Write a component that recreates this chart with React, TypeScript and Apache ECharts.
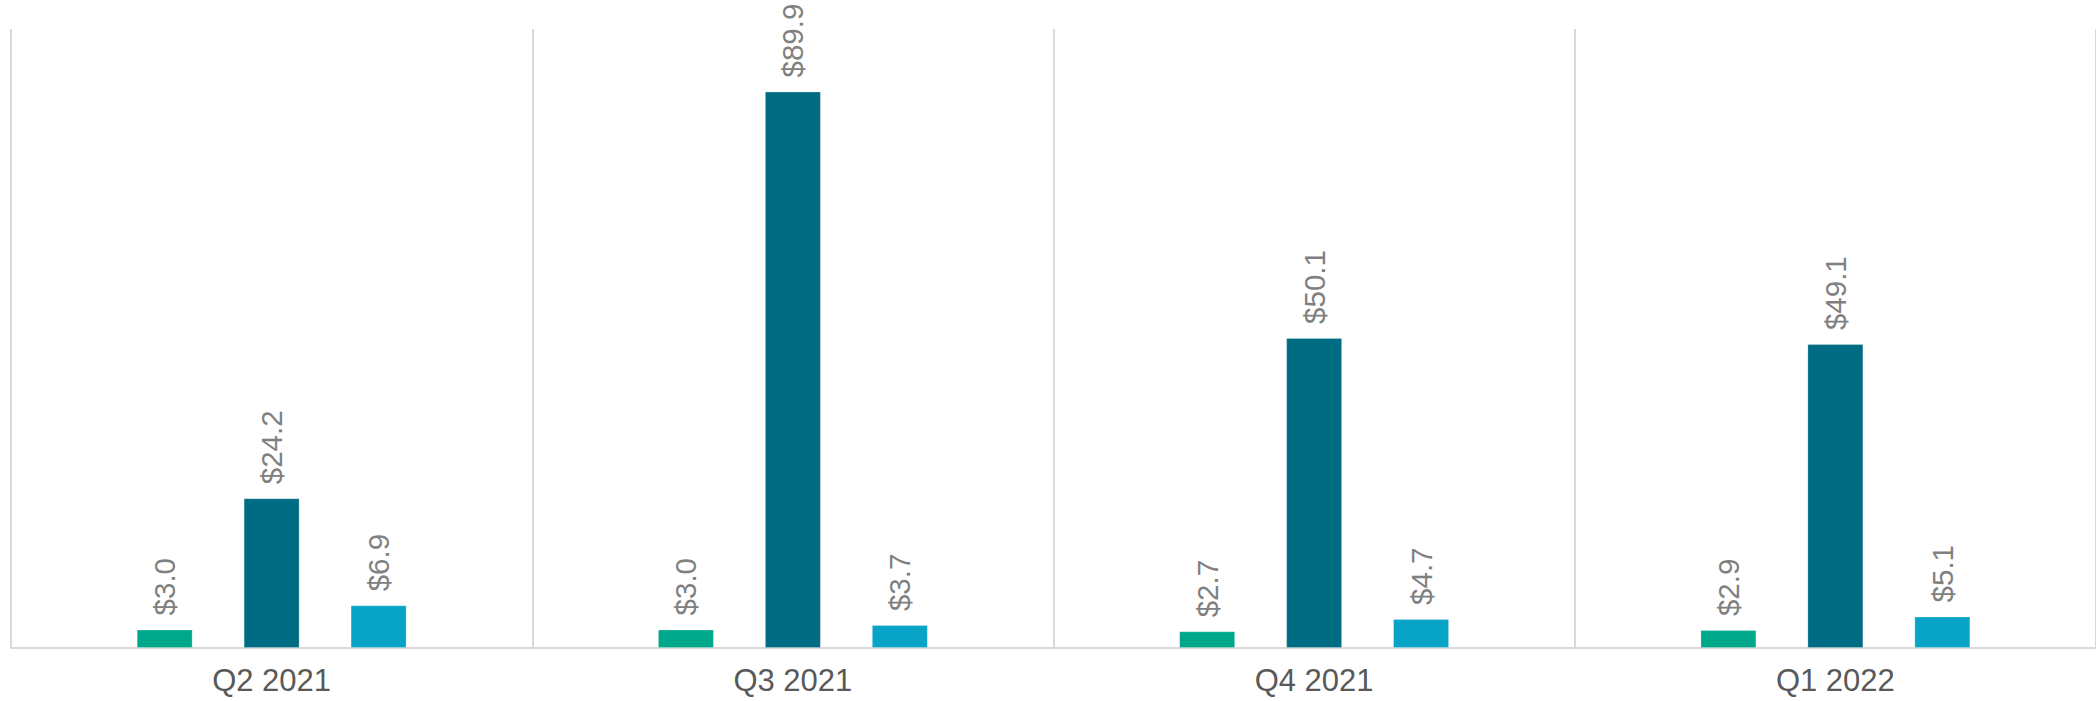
import React, { useEffect, useRef } from "react";
import * as echarts from "echarts";

const categories = ["Q2 2021", "Q3 2021", "Q4 2021", "Q1 2022"];
const seriesA = [3.0, 3.0, 2.7, 2.9];
const seriesB = [24.2, 89.9, 50.1, 49.1];
const seriesC = [6.9, 3.7, 4.7, 5.1];
const colors = ["#00A88B", "#006C84", "#07A4C8"];

export default function App() {
  const ref = useRef<HTMLDivElement>(null);
  useEffect(() => {
    if (!ref.current) return;
    const chart = echarts.init(ref.current, null, { renderer: "svg" });
    const label = {
      show: true,
      position: "top",
      rotate: 90,
      align: "left",
      verticalAlign: "middle",
      distance: 14,
      color: "#808080",
      fontSize: 29.5,
      fontFamily: "Liberation Sans, Arial, sans-serif",
      formatter: (p: any) => "$" + Number(p.value).toFixed(1),
    };
    const mk = (data: number[], i: number) => ({
      type: "bar",
      data,
      barWidth: 56,
      barGap: "91%",
      itemStyle: { color: colors[i], borderColor: "rgba(255,255,255,0.25)", borderWidth: 1 },
      label,
    });
    chart.setOption({
      animation: false,
      grid: { left: 11, right: -2, top: 29, bottom: 53 },
      xAxis: {
        type: "category",
        data: categories,
        axisLine: { show: true, lineStyle: { color: "#d9d9d9", width: 2 } },
        axisTick: { show: false },
        splitLine: { show: true, lineStyle: { color: "#d9d9d9", width: 2 } },
        axisLabel: {
          color: "#595959",
          fontSize: 31,
          margin: 17,
          fontFamily: "Liberation Sans, Arial, sans-serif",
        },
      },
      yAxis: {
        type: "value",
        min: 0,
        max: 100,
        show: false,
        splitLine: { show: false },
      },
      series: [mk(seriesA, 0), mk(seriesB, 1), mk(seriesC, 2)],
    });
    return () => chart.dispose();
  }, []);
  return (
    <div
      ref={ref}
      style={{ position: "fixed", left: 0, top: 0, width: 2096, height: 701, background: "#fff" }}
    />
  );
}
